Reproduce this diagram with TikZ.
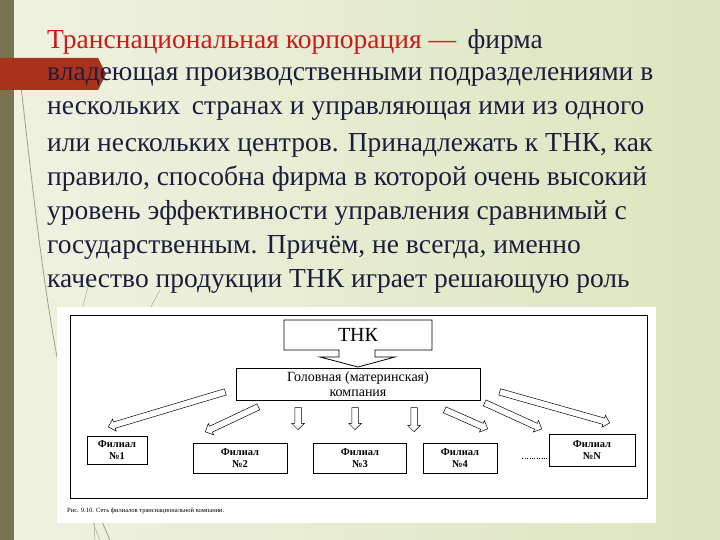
\documentclass[tikz,border=0pt]{standalone}
\usepackage{fontspec}
\setmainfont{Liberation Serif}
\usetikzlibrary{calc,shapes.arrows}
\begin{document}
\begin{tikzpicture}[x=1pt,y=-1pt,
  txt/.style={anchor=west,inner sep=0pt,font=\fontsize{27.5}{28}\selectfont,text=navy},
  box/.style={draw=black,line width=0.8pt,fill=white,align=center,inner sep=0pt,font=\fontsize{10.5}{12}\bfseries\selectfont},
  harrow/.style={draw=black,line width=0.5pt,fill=white,single arrow,minimum height=#1,inner sep=3pt,single arrow head extend=3pt,anchor=tip},
]
\definecolor{navy}{HTML}{1E1E3C}
\definecolor{bannerred}{HTML}{A8321C}
\definecolor{olive}{HTML}{7A7352}
\definecolor{bgA}{HTML}{F0F2E2}
\definecolor{bgB}{HTML}{DCE5BF}
\definecolor{ttlred}{HTML}{D01818}
\useasboundingbox (0,0) rectangle (720,540);
\shade[left color=bgA,right color=bgB] (0,0) rectangle (720,540);
\fill[olive] (0,0) rectangle (14,540);
% decorative curves
\draw[olive!70,line width=0.8pt] (18,60) .. controls (40,250) and (55,420) .. (110,540);
\draw[olive!60,line width=0.5pt] (90,280) .. controls (60,380) and (70,470) .. (100,540);
\draw[olive!60,line width=0.5pt] (160,290) .. controls (110,380) and (90,460) .. (95,540);
\fill[bannerred] (0,58) -- (98,58) -- (106,74) -- (98,90) -- (0,90) -- cycle;
% text
\node[txt] (l1) at (47,42) {\textcolor{ttlred}{Транснациональная корпорация —}\, фирма};
\node[txt] (l2) at (47,77) {владеющая производственными подразделениями в};
\node[txt] (l3) at (47,111) {нескольких\, странах и управляющая ими из одного};
\node[txt] (l4) at (47,145) {или нескольких центров. Принадлежать к ТНК, как};
\node[txt] (l5) at (47,179) {правило, способна фирма в которой очень высокий};
\node[txt] (l6) at (47,213) {уровень эффективности управления сравнимый с};
\node[txt] (l7) at (47,247) {государственным. Причём, не всегда, именно};
\node[txt] (l8) at (47,281) {качество продукции ТНК играет решающую роль};
% picture
\fill[white] (57,307) rectangle (656,523);
\draw[line width=0.8pt] (70,315) rectangle (647,498);
\node[anchor=west,inner sep=0pt,font=\fontsize{6.5}{7}\selectfont] (cap) at (67,511) {Рис. 9.10. Сеть филиалов транснациональной компании.};
\draw[line width=0.8pt,fill=white] (284,320) -- (432,320) -- (432,350) -- (375,350) -- (375,357) -- (395,357) -- (358,367) -- (320,357) -- (339,357) -- (339,350) -- (284,350) -- cycle;
\node[font=\fontsize{20}{20}\selectfont] (tnk) at (358,335) {ТНК};
\node[box,minimum width=244pt,minimum height=32pt,font=\fontsize{14}{15}\selectfont] (head) at (358,384) {Головная (материнская)\\компания};
\node[box,minimum width=60pt,minimum height=28pt] (f1) at (117,450) {Филиал\\№1};
\node[box,minimum width=94pt,minimum height=30pt] (f2) at (240,458) {Филиал\\№2};
\node[box,minimum width=93pt,minimum height=30pt] (f3) at (360,458) {Филиал\\№3};
\node[box,minimum width=74pt,minimum height=30pt] (f4) at (460,458) {Филиал\\№4};
\node[box,minimum width=86pt,minimum height=32pt] (fN) at (592,450) {Филиал\\№N};
\draw[dotted] (f4.east) ++(25pt,0) coordinate (d1) -- (d1 -| fN.west);
% arrows
\foreach \tl/\tp in {{(225,392)}/{(108,427)},{(258,407)}/{(205,432)},{(298,408)}/{(298,430)},{(355,408)}/{(355,430)},{(414,408)}/{(414,432)},{(445,410)}/{(488,429)},{(485,403)}/{(542,429)},{(500,392)}/{(610,423)}}{
  \path \tl coordinate (A) \tp coordinate (B);
  \path let \p1=($(B)-(A)$), \n1={veclen(\x1,\y1)}, \n2={atan2(\y1,\x1)} in
    node[harrow=\n1,rotate=\n2] at (B) {};
}
\end{tikzpicture}
\end{document}
